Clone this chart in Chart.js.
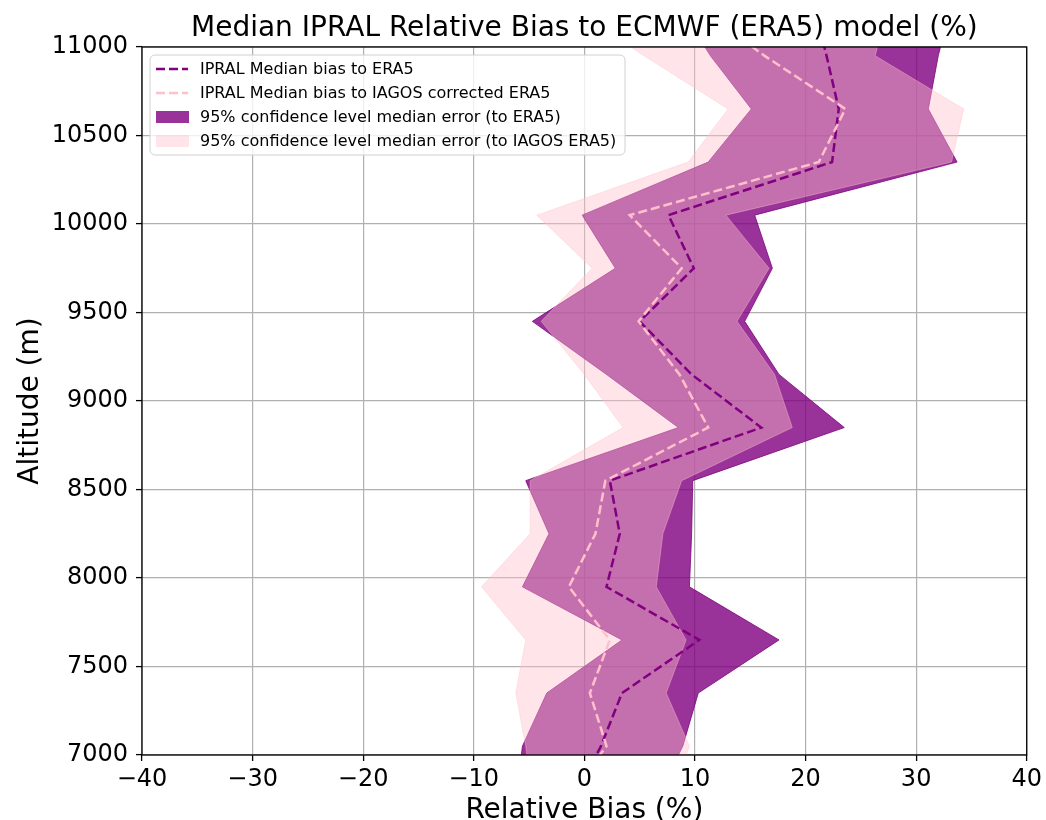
<!DOCTYPE html>
<html>
<head>
<meta charset="utf-8">
<script src="https://cdn.jsdelivr.net/npm/chart.js@4.4.1/dist/chart.umd.min.js"></script>
<style>
  html, body { margin: 0; padding: 0; background: #fff; }
  #c { display: block; }
</style>
</head>
<body>
<canvas id="c" width="1046" height="820"></canvas>
<script>
// ---- data ----
const altitudes   = [6750, 7050, 7350, 7650, 7950, 8250, 8550, 8850, 9150, 9450, 9750, 10050, 10350, 10650, 10950, 11250];
const medianERA5  = [-1.0, 1.5, 3.4, 10.4, 2.0, 3.2, 2.3, 16.0, 9.7, 5.0, 9.9, 7.6, 22.4, 23.0, 21.9, 20.7];
const medianIAGOS = [-1.6, 2.0, 0.5, 2.3, -1.4, 1.0, 1.9, 11.2, 8.6, 4.9, 8.8, 4.1, 21.2, 23.6, 16.3, 9.7];
const lowerERA5   = [-6.2, -5.6, -3.4, 3.4, -5.6, -3.2, -5.3, 8.5, 2.0, -4.7, 2.8, -0.2, 11.2, 15.1, 11.4, 8.4];
const upperERA5   = [6.5, 8.9, 10.3, 17.6, 9.5, 9.7, 9.8, 23.5, 17.6, 14.5, 17.0, 15.4, 33.7, 31.1, 32.0, 33.2];
const lowerIAGOS  = [-4.7, -5.3, -6.2, -5.3, -9.3, -4.9, -4.9, 3.5, 0.0, -3.9, 0.7, -4.3, 9.4, 13.0, 5.4, -1.8];
const upperIAGOS  = [7.7, 9.5, 7.4, 9.2, 6.5, 7.1, 8.8, 18.8, 17.2, 13.8, 16.7, 12.8, 33.2, 34.3, 26.3, 27.5];

const seriesLabels = [
  'IPRAL Median bias to ERA5',
  'IPRAL Median bias to IAGOS corrected ERA5',
  '95% confidence level median error (to ERA5)',
  '95% confidence level median error (to IAGOS ERA5)'
];
const titleText = 'Median IPRAL Relative Bias to ECMWF (ERA5) model (%)';
const xTitle = 'Relative Bias (%)';
const yTitle = 'Altitude (m)';
const xRange = [-40, 40];
const yRange = [7000, 11000];
const xStep = 10;
const yStep = 500;

// ---- styles ----
const FONT = "'DejaVu Sans', sans-serif";
const PURPLE = '#800080';
const PINK = '#ffc0cb';
const PURPLE_FILL = 'rgba(128,0,128,0.8)';
const PINK_FILL = 'rgba(255,192,203,0.42)';
const DASH = [9, 4];

const pts = (vals) => altitudes.map((a, i) => ({ x: vals[i], y: a }));

const datasets = [
  { label: seriesLabels[2], data: pts(lowerERA5), borderColor: PURPLE_FILL, borderWidth: 1,
    backgroundColor: PURPLE_FILL, fill: '+1', pointRadius: 0, order: 3 },
  { label: '_upperERA5', data: pts(upperERA5), borderColor: PURPLE_FILL, borderWidth: 1,
    backgroundColor: PURPLE_FILL, fill: false, pointRadius: 0, order: 3 },
  { label: seriesLabels[3], data: pts(lowerIAGOS), borderColor: PINK_FILL, borderWidth: 1,
    backgroundColor: PINK_FILL, fill: '+1', pointRadius: 0, order: 2 },
  { label: '_upperIAGOS', data: pts(upperIAGOS), borderColor: PINK_FILL, borderWidth: 1,
    backgroundColor: PINK_FILL, fill: false, pointRadius: 0, order: 2 },
  { label: seriesLabels[0], data: pts(medianERA5), borderColor: PURPLE, borderWidth: 2.5,
    borderDash: DASH, fill: false, pointRadius: 0, order: 1 },
  { label: seriesLabels[1], data: pts(medianIAGOS), borderColor: PINK, borderWidth: 2.5,
    borderDash: DASH, fill: false, pointRadius: 0, order: 0 }
];

const frameLegend = {
  id: 'frameLegend',
  afterDraw(chart) {
    const { ctx, chartArea: a } = chart;
    const ds = chart.data.datasets;
    ctx.save();
    // axes frame
    ctx.strokeStyle = '#000';
    ctx.lineWidth = 1.3;
    ctx.strokeRect(a.left, a.top, a.right - a.left, a.bottom - a.top);
    // legend box
    const x0 = a.left + 8, y0 = a.top + 8, w = 475, h = 100, r = 5;
    ctx.beginPath();
    ctx.moveTo(x0 + r, y0);
    ctx.lineTo(x0 + w - r, y0);
    ctx.arcTo(x0 + w, y0, x0 + w, y0 + r, r);
    ctx.lineTo(x0 + w, y0 + h - r);
    ctx.arcTo(x0 + w, y0 + h, x0 + w - r, y0 + h, r);
    ctx.lineTo(x0 + r, y0 + h);
    ctx.arcTo(x0, y0 + h, x0, y0 + h - r, r);
    ctx.lineTo(x0, y0 + r);
    ctx.arcTo(x0, y0, x0 + r, y0, r);
    ctx.closePath();
    ctx.fillStyle = 'rgba(255,255,255,0.8)';
    ctx.fill();
    ctx.strokeStyle = '#d0d0d0';
    ctx.lineWidth = 1;
    ctx.stroke();
    const entries = [
      { d: ds[4], kind: 'line' },
      { d: ds[5], kind: 'line' },
      { d: ds[0], kind: 'patch' },
      { d: ds[2], kind: 'patch' }
    ];
    ctx.font = '16px ' + FONT;
    ctx.textBaseline = 'middle';
    ctx.textAlign = 'left';
    entries.forEach((e, i) => {
      const cy = y0 + 14 + 24 * i;
      if (e.kind === 'line') {
        ctx.save();
        ctx.strokeStyle = e.d.borderColor;
        ctx.lineWidth = e.d.borderWidth;
        ctx.setLineDash(e.d.borderDash);
        ctx.beginPath();
        ctx.moveTo(x0 + 6, cy);
        ctx.lineTo(x0 + 38, cy);
        ctx.stroke();
        ctx.restore();
      } else {
        ctx.fillStyle = e.d.backgroundColor;
        ctx.fillRect(x0 + 6, cy - 6, 33, 12);
      }
      ctx.fillStyle = '#000';
      ctx.fillText(e.d.label, x0 + 50, cy + 1);
    });
    ctx.restore();
  }
};

new Chart(document.getElementById('c'), {
  type: 'line',
  data: { datasets },
  plugins: [frameLegend],
  options: {
    responsive: false,
    devicePixelRatio: 1,
    animation: false,
    indexAxis: 'y',
    layout: { padding: { left: 0, right: 16, top: 0, bottom: 0 } },
    plugins: {
      legend: { display: false },
      tooltip: { enabled: false },
      title: {
        display: true,
        text: titleText,
        fullSize: false,
        color: '#000',
        font: { family: FONT, size: 28, weight: 'normal', lineHeight: 1.2 },
        padding: { top: 12, bottom: 1.4 }
      }
    },
    scales: {
      x: {
        type: 'linear',
        min: xRange[0], max: xRange[1],
        z: 1,
        ticks: {
          stepSize: xStep,
          color: '#000',
          padding: 4,
          font: { family: FONT, size: 24 },
          callback: (v) => (v < 0 ? '\u2212' + Math.abs(v) : String(v))
        },
        grid: { color: '#b0b0b0', lineWidth: 1.2, tickLength: 6, tickColor: '#000', tickWidth: 1.3 },
        border: { display: false },
        title: {
          display: true, text: xTitle, color: '#000',
          font: { family: FONT, size: 28, lineHeight: 0.8 },
          padding: { top: 0, bottom: -1.5 }
        },
        afterFit: (s) => { s.height = 65; }
      },
      y: {
        type: 'linear',
        min: yRange[0], max: yRange[1],
        z: 1,
        ticks: {
          stepSize: yStep,
          color: '#000',
          padding: 8,
          font: { family: FONT, size: 24 },
          callback: (v) => String(v)
        },
        grid: { color: '#b0b0b0', lineWidth: 1.2, tickLength: 6, tickColor: '#000', tickWidth: 1.3 },
        border: { display: false },
        title: {
          display: true, text: yTitle, color: '#000',
          font: { family: FONT, size: 28, lineHeight: 1.2 },
          padding: { top: 13.5, bottom: 0 }
        },
        afterFit: (s) => { s.width = 142; }
      }
    }
  }
});
</script>
</body>
</html>
